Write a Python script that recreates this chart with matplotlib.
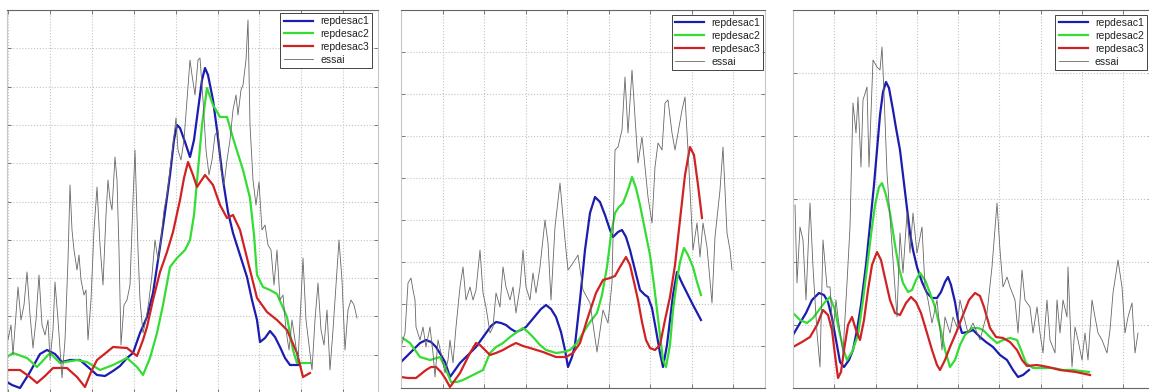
import matplotlib.pyplot as plt

plt.rcParams['font.family'] = ['Liberation Sans', 'DejaVu Sans']

LABELS = ['repdesac1', 'repdesac2', 'repdesac3', 'essai']
COLORS = ['#1c1cb0', '#33dd33', '#d02222', '#666666']
WIDTHS = [1.6, 1.6, 1.6, 0.6]

# ---------- run 1 ----------
rep1_1_x = [0, 5, 13, 23, 33, 40, 48, 55, 63, 73, 81, 90, 98, 106, 113, 120, 126, 133, 140, 146,
            153, 158, 163, 167, 170, 173, 178, 183, 187, 191, 195, 198, 201, 206, 210, 216, 221, 226, 233, 240,
            245, 250, 253, 258, 263, 268, 273, 278, 283, 293]
rep1_1_y = [8, 5, 2, 18, 36, 40, 36, 28, 30, 30, 23, 15, 14, 19, 24, 32, 37, 57, 73, 97,
            143, 178, 215, 250, 265, 262, 248, 233, 250, 280, 310, 322, 315, 290, 260, 210, 178, 157, 135, 113,
            90, 70, 48, 52, 59, 53, 43, 32, 25, 25]
rep2_1_x = [0, 6, 20, 30, 43, 53, 70, 80, 93, 106, 120, 130, 136, 143, 150, 156, 163, 170, 178, 183,
            187, 191, 195, 200, 206, 213, 220, 226, 236, 243, 247, 250, 256, 263, 270, 280, 286, 290, 303]
rep2_1_y = [33, 37, 32, 23, 37, 27, 30, 28, 20, 25, 32, 23, 15, 32, 57, 85, 123, 132, 140, 150,
            175, 220, 265, 302, 285, 273, 273, 252, 220, 192, 155, 115, 103, 100, 96, 73, 40, 27, 27]
rep3_1_x = [0, 13, 23, 30, 38, 46, 60, 70, 78, 84, 90, 100, 106, 120, 130, 136, 140, 146, 153, 160,
            166, 173, 177, 181, 186, 190, 198, 206, 213, 220, 226, 233, 243, 250, 260, 270, 280, 290, 296, 303]
rep3_1_y = [20, 20, 13, 7, 14, 22, 22, 13, 3, 18, 30, 38, 43, 42, 34, 50, 63, 90, 118, 138,
            158, 190, 212, 228, 215, 203, 215, 205, 185, 172, 175, 160, 120, 92, 78, 70, 60, 37, 13, 17]
essai_1_x = [0, 1, 4, 6, 11, 14, 17, 20, 23, 26, 29, 32, 35, 38, 41, 43, 46, 48, 51, 55,
             58, 61, 63, 65, 67, 70, 72, 74, 77, 79, 81, 84, 87, 90, 93, 96, 99, 101, 103, 105,
             108, 110, 112, 114, 117, 120, 123, 126, 128, 131, 133, 136, 139, 142, 145, 148, 151, 154, 157, 160,
             163, 166, 169, 171, 174, 177, 180, 183, 185, 188, 191, 193, 196, 199, 202, 205, 208, 211, 214, 217,
             220, 223, 226, 229, 231, 234, 236, 239, 241, 243, 246, 249, 252, 255, 258, 261, 264, 267, 270, 273,
             276, 279, 282, 285, 288, 291, 294, 296, 299, 302, 305, 308, 311, 314, 317, 320, 323, 326, 329, 332,
             335, 338, 341, 344, 347, 350]
essai_1_y = [70, 50, 65, 35, 103, 70, 85, 118, 75, 42, 70, 115, 65, 55, 70, 30, 60, 108, 70, 12,
             50, 130, 205, 160, 140, 120, 135, 110, 95, 100, 50, 90, 160, 203, 145, 105, 175, 210, 190, 180,
             233, 210, 140, 45, 85, 90, 105, 190, 240, 140, 90, 57, 70, 90, 115, 150, 130, 150, 180, 195,
             220, 245, 272, 240, 230, 250, 290, 330, 315, 295, 330, 332, 290, 240, 215, 230, 255, 260, 220, 205,
             230, 250, 280, 295, 275, 300, 305, 330, 370, 265, 210, 185, 208, 160, 165, 145, 140, 105, 140, 90,
             95, 60, 40, 70, 50, 28, 90, 132, 70, 45, 20, 70, 107, 60, 45, 80, 20, 60, 105, 150,
             110, 40, 80, 90, 85, 72]

# ---------- run 2 ----------
rep1_2_x = [0, 6, 12, 19, 25, 30, 35, 40, 44, 49, 54, 59, 67, 75, 85, 90, 95, 100, 105, 110,
            115, 120, 125, 130, 135, 140, 145, 150, 155, 160, 164, 167, 171, 174, 179, 184, 189, 194, 199, 204,
            209, 212, 217, 221, 225, 229, 234, 239, 244, 247, 251, 255, 259, 262, 266, 269, 272, 276, 281, 286,
            292, 300]
rep1_2_y = [26, 32, 38, 45, 48, 46, 41, 33, 26, 11, 18, 25, 33, 41, 55, 62, 66, 65, 63, 59,
            56, 58, 61, 67, 73, 79, 83, 79, 71, 56, 38, 21, 31, 43, 88, 138, 175, 191, 186, 173,
            158, 151, 156, 158, 151, 138, 118, 98, 93, 91, 80, 58, 35, 21, 43, 68, 93, 116, 105, 95,
            83, 68]
rep2_2_x = [0, 9, 19, 29, 39, 44, 50, 56, 62, 72, 82, 89, 95, 102, 109, 116, 122, 127, 132, 139,
            145, 155, 162, 169, 176, 182, 189, 196, 201, 206, 210, 214, 218, 222, 227, 231, 235, 239, 244, 249,
            253, 256, 259, 262, 265, 269, 272, 276, 279, 283, 287, 292, 296, 300]
rep2_2_y = [51, 45, 31, 28, 31, 21, 6, 6, 8, 13, 18, 35, 41, 45, 51, 56, 60, 56, 51, 43,
            38, 35, 36, 38, 45, 55, 66, 75, 93, 121, 153, 175, 181, 185, 198, 211, 200, 183, 158, 133,
            103, 78, 53, 28, 21, 43, 78, 108, 126, 140, 133, 121, 106, 93]
rep3_2_x = [0, 7, 15, 20, 25, 30, 35, 40, 44, 49, 54, 59, 64, 69, 75, 79, 84, 89, 95, 102,
            109, 115, 122, 129, 142, 155, 165, 172, 179, 186, 195, 202, 209, 214, 219, 225, 229, 233, 237, 241,
            245, 249, 254, 259, 264, 269, 274, 279, 284, 289, 293, 297, 301]
rep3_2_y = [11, 10, 10, 14, 18, 21, 21, 16, 10, 1, 8, 15, 25, 35, 45, 43, 38, 33, 35, 38,
            42, 45, 42, 40, 36, 31, 31, 35, 45, 68, 95, 108, 110, 112, 121, 131, 123, 106, 88, 66,
            48, 40, 38, 43, 68, 91, 123, 168, 213, 241, 233, 203, 170]
essai_2_x = [0, 4, 7, 10, 12, 14, 15, 19, 22, 25, 29, 32, 34, 37, 40, 44, 47, 49, 52, 55,
             59, 62, 65, 69, 72, 75, 79, 82, 85, 89, 92, 95, 99, 102, 105, 109, 112, 115, 119, 122,
             125, 129, 132, 135, 139, 144, 147, 150, 154, 159, 164, 167, 172, 177, 182, 189, 196, 202, 207, 211,
             214, 217, 221, 224, 227, 231, 234, 237, 241, 244, 247, 251, 254, 257, 261, 264, 267, 271, 274, 277,
             281, 284, 287, 292, 296, 299, 302, 306, 311, 314, 319, 322, 326, 329, 331]
essai_2_y = [41, 55, 105, 110, 98, 88, 61, 48, 61, 41, 61, 35, 11, 48, 35, 15, 28, 48, 25, 61,
             101, 121, 88, 101, 88, 98, 138, 95, 81, 55, 61, 95, 81, 121, 101, 88, 101, 75, 101, 138,
             101, 88, 115, 95, 121, 168, 145, 88, 161, 205, 148, 118, 125, 133, 98, 85, 36, 78, 65, 105,
             238, 241, 258, 311, 255, 318, 271, 225, 251, 221, 191, 165, 221, 245, 238, 285, 288, 255, 238, 255,
             278, 291, 238, 138, 165, 131, 165, 141, 85, 151, 198, 241, 155, 138, 118]

# ---------- run 3 ----------
rep1_3_x = [0, 7, 13, 19, 26, 31, 35, 39, 43, 47, 51, 56, 60, 64, 68, 73, 77, 81, 84, 87,
            90, 93, 96, 100, 103, 107, 110, 113, 117, 120, 124, 129, 134, 139, 144, 148, 152, 155, 158, 162,
            165, 169, 175, 180, 187, 193, 200, 207, 214, 220, 225, 230, 236]
rep1_3_y = [53, 65, 75, 88, 95, 93, 86, 70, 48, 26, 21, 28, 38, 58, 83, 123, 163, 203, 238, 273,
            296, 306, 300, 278, 260, 238, 213, 188, 155, 138, 121, 106, 95, 90, 90, 96, 106, 111, 103, 86,
            68, 55, 56, 58, 51, 46, 41, 33, 28, 18, 11, 13, 18]
rep2_3_x = [0, 7, 14, 20, 26, 32, 37, 42, 46, 50, 54, 59, 65, 70, 74, 78, 82, 86, 89, 93,
            97, 102, 106, 110, 115, 119, 123, 127, 132, 137, 142, 147, 152, 157, 162, 167, 172, 179, 185, 190,
            197, 204, 210, 217, 224, 228, 233, 240, 250, 260, 270, 280, 296]
rep2_3_y = [75, 68, 65, 70, 78, 86, 91, 78, 58, 40, 28, 36, 53, 88, 120, 153, 183, 201, 205, 193,
            175, 143, 120, 105, 96, 98, 108, 115, 108, 95, 81, 61, 38, 21, 28, 43, 53, 60, 60, 58,
            51, 45, 48, 50, 48, 38, 25, 20, 20, 20, 18, 18, 16]
rep3_3_x = [0, 9, 17, 24, 30, 35, 39, 42, 45, 48, 51, 55, 59, 63, 67, 71, 75, 79, 84, 88,
            92, 97, 102, 107, 113, 118, 123, 128, 134, 139, 144, 147, 152, 157, 163, 170, 176, 182, 187, 191,
            197, 203, 210, 217, 224, 229, 234, 244, 255, 267, 283, 297]
rep3_3_y = [41, 46, 51, 63, 78, 73, 58, 33, 10, 16, 38, 63, 71, 58, 48, 68, 98, 123, 136, 128,
            110, 88, 75, 73, 85, 91, 86, 75, 55, 38, 23, 18, 28, 41, 55, 73, 88, 95, 92, 81,
            60, 51, 50, 46, 38, 28, 22, 23, 21, 18, 16, 13]
essai_3_x = [2, 4, 7, 10, 13, 17, 20, 24, 27, 30, 34, 37, 40, 43, 45, 50, 54, 57, 60, 63,
             65, 68, 70, 74, 76, 80, 84, 87, 89, 91, 94, 97, 100, 104, 107, 110, 114, 117, 120, 124,
             129, 132, 135, 139, 144, 149, 152, 157, 160, 164, 167, 170, 175, 180, 187, 194, 199, 204, 207, 210,
             214, 217, 222, 225, 229, 232, 237, 240, 244, 247, 250, 254, 257, 262, 264, 267, 270, 274, 275, 279,
             282, 285, 289, 292, 295, 299, 302, 305, 309, 314, 317, 320, 325, 329, 332, 335, 339, 342, 345]
essai_3_y = [183, 105, 161, 148, 88, 185, 121, 55, 21, 148, 101, 101, 55, 88, 71, 35, 105, 161, 285, 255,
             291, 221, 288, 301, 221, 328, 321, 318, 341, 295, 215, 171, 128, 71, 155, 115, 175, 135, 175, 135,
             161, 101, 88, 65, 88, 38, 71, 55, 71, 61, 88, 75, 55, 65, 48, 75, 121, 185, 138, 101,
             111, 101, 88, 55, 118, 88, 81, 55, 81, 55, 35, 88, 48, 35, 88, 55, 88, 71, 121, 21,
             61, 48, 28, 55, 28, 88, 71, 55, 48, 35, 58, 95, 128, 101, 55, 71, 85, 35, 55]

W, H = 1149, 392


def make_axes(fig, left, right, top, bottom):
    # box given in pixels from the top-left corner of the figure
    return fig.add_axes([left / W, (H - bottom) / H, (right - left) / W, (bottom - top) / H])


def draw_run(ax, series, xlim, ylim, x0, dx, y0, dy, legend_at):
    for (xs, ys), label, color, lw in zip(series, LABELS, COLORS, WIDTHS):
        ax.plot(xs, ys, color=color, lw=lw, label=label)
    ax.set_xlim(*xlim)
    ax.set_ylim(*ylim)
    xt = [x0 + k * dx for k in range(20) if x0 + k * dx <= xlim[1]]
    yt = [y0 - k * dy for k in range(20) if y0 - k * dy >= ylim[0]]
    ax.set_xticks(xt)
    ax.set_yticks(yt)
    ax.tick_params(direction='in', length=3, width=0.6, color='#666666',
                   top=True, right=True, labelbottom=False, labelleft=False)
    ax.grid(True, linestyle=':', color='#c4c4c4', linewidth=0.8)
    for name, sp in ax.spines.items():
        sp.set_linewidth(0.8)
        sp.set_color('#666666' if name in ('top', 'bottom') else '#c8c8c8')
    leg = ax.legend(loc='upper right', bbox_to_anchor=legend_at, borderaxespad=0,
                    fontsize=7.5, handlelength=2.8, handletextpad=0.7, labelspacing=0.28,
                    borderpad=0.3, fancybox=False, framealpha=1)
    leg.get_frame().set_edgecolor('#444444')
    leg.get_frame().set_linewidth(0.7)
    for txt in leg.get_texts():
        txt.set_color('#222222')


fig = plt.figure(figsize=(W / 100, H / 100), dpi=100)

ax1 = make_axes(fig, 7, 378, 10, 393)
draw_run(ax1, [(rep1_1_x, rep1_1_y), (rep2_1_x, rep2_1_y), (rep3_1_x, rep3_1_y), (essai_1_x, essai_1_y)],
         (0, 371), (-3, 380), 1, 41.9, 380, 38.3, (0.984, 0.992))

ax2 = make_axes(fig, 401, 765, 10, 388)
draw_run(ax2, [(rep1_2_x, rep1_2_y), (rep2_2_x, rep2_2_y), (rep3_2_x, rep3_2_y), (essai_2_x, essai_2_y)],
         (0, 364), (0, 378), 0, 41.5, 378, 42, (0.995, 0.987))

ax3 = make_axes(fig, 793, 1152, 10, 388)
draw_run(ax3, [(rep1_3_x, rep1_3_y), (rep2_3_x, rep2_3_y), (rep3_3_x, rep3_3_y), (essai_3_x, essai_3_y)],
         (0, 359), (0, 378), 0, 41.25, 378, 63, (0.986, 0.987))

fig.savefig('out.png', dpi=100)
